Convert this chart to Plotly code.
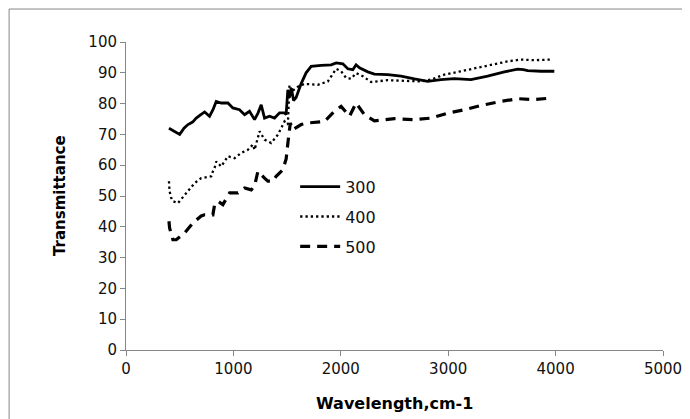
import plotly.graph_objects as go

# ---- data ----
x_300 = [400, 450, 500, 540, 577, 620, 654, 700, 732, 778, 810, 840, 887, 949, 995, 1057,
         1104, 1150, 1197, 1230, 1259, 1290, 1337, 1383, 1430, 1476, 1491, 1507, 1522, 1540,
         1560, 1584, 1631, 1677, 1724, 1817, 1910, 1957, 2019, 2065, 2112, 2142, 2174, 2251,
         2313, 2437, 2561, 2685, 2809, 2933, 3057, 3212, 3367, 3523, 3647, 3700, 3740, 3864, 3988]
y_300 = [72.0, 71.0, 70.0, 72.0, 73.2, 74.0, 75.3, 76.5, 77.3, 75.9, 78.0, 80.7, 80.2, 80.2, 78.6, 78.0,
         76.4, 77.5, 74.8, 77.0, 79.6, 75.3, 75.9, 75.3, 77.0, 77.0, 76.4, 84.5, 82.0, 85.0,
         81.0, 82.0, 86.5, 90.0, 92.1, 92.4, 92.6, 93.2, 92.9, 91.3, 91.0, 92.6, 91.6, 90.3,
         89.6, 89.4, 88.9, 88.0, 87.2, 87.8, 88.1, 87.8, 88.9, 90.3, 91.2, 91.0, 90.7, 90.5, 90.5]

x_400 = [400, 406, 421, 437, 484, 515, 546, 577, 639, 700, 794, 809, 825, 840, 870, 887,
         949, 1011, 1073, 1135, 1181, 1197, 1244, 1290, 1352, 1414, 1476, 1507, 1522, 1545,
         1600, 1662, 1786, 1879, 1957, 2003, 2050, 2096, 2142, 2205, 2282, 2437, 2592, 2747,
         2840, 2964, 3119, 3274, 3430, 3553, 3677, 3802, 3957]
y_400 = [54.8, 51.5, 49.4, 48.3, 47.7, 49.0, 50.4, 51.5, 54.2, 55.8, 56.4, 58.0, 59.1, 61.2, 60.0, 59.6,
         62.9, 62.3, 64.0, 65.0, 66.7, 65.0, 71.0, 68.3, 67.2, 69.9, 74.2, 73.2, 86.0, 84.0,
         85.5, 86.4, 86.1, 87.2, 91.3, 90.5, 88.3, 88.1, 89.9, 88.9, 87.0, 87.6, 87.4, 87.2,
         87.8, 89.4, 90.5, 91.6, 92.9, 93.7, 94.3, 94.1, 94.3]

x_500 = [400, 406, 437, 468, 546, 623, 700, 732, 809, 825, 856, 902, 965, 1042, 1104, 1166,
         1197, 1228, 1290, 1321, 1367, 1398, 1460, 1491, 1510, 1530, 1553, 1631, 1693, 1848,
         1941, 2003, 2081, 2142, 2220, 2313, 2499, 2685, 2840, 2995, 3150, 3305, 3491, 3647,
         3802, 3957]
y_500 = [41.8, 39.6, 35.8, 35.8, 38.0, 41.2, 43.5, 43.9, 43.9, 47.2, 48.3, 47.2, 51.0, 51.0, 52.6, 52.0,
         53.2, 58.0, 55.8, 54.8, 54.8, 56.4, 58.5, 62.0, 68.0, 73.7, 71.5, 73.2, 73.7, 74.2,
         77.5, 79.1, 75.9, 80.2, 76.4, 74.4, 75.1, 74.8, 75.3, 76.9, 78.0, 79.4, 80.7, 81.6,
         81.3, 81.8]

series_names = ["300", "400", "500"]
x_ticks = [0, 1000, 2000, 3000, 4000, 5000]
y_ticks = [0, 10, 20, 30, 40, 50, 60, 70, 80, 90, 100]

FONT = "DejaVu Sans"
AXIS_GRAY = "#868686"

fig = go.Figure()
fig.add_trace(go.Scatter(x=x_300, y=y_300, mode="lines", name=series_names[0], legendgroup="a",
                         line=dict(color="black", width=2.8, dash="solid")))
fig.add_trace(go.Scatter(x=x_400, y=y_400, mode="lines", name=series_names[1], legendgroup="b",
                         line=dict(color="black", width=2.3, dash="2.3px,3px")))
fig.add_trace(go.Scatter(x=x_500, y=y_500, mode="lines", name=series_names[2], legendgroup="c",
                         line=dict(color="black", width=3.2, dash="10px,7px")))

fig.update_layout(
    width=690, height=419,
    margin=dict(l=118, r=34.5, t=34, b=77),
    paper_bgcolor="white", plot_bgcolor="white",
    font=dict(family=FONT, color="#111111"),
    showlegend=True,
    legend=dict(x=0.315, y=0.585, xanchor="left", yanchor="top",
                font=dict(family=FONT, size=16, color="#111111"),
                itemwidth=40,
                bgcolor="rgba(0,0,0,0)", tracegroupgap=6),
    xaxis=dict(range=[0, 5000], tickvals=x_ticks, ticktext=[str(v) for v in x_ticks],
               showgrid=False, zeroline=False, showline=True, linecolor=AXIS_GRAY, linewidth=1,
               ticks="outside", ticklen=5, tickcolor=AXIS_GRAY,
               tickfont=dict(family=FONT, size=15, color="#111111")),
    yaxis=dict(range=[0, 100], tickvals=y_ticks, ticktext=[str(v) for v in y_ticks],
               showgrid=False, zeroline=False, showline=True, linecolor=AXIS_GRAY, linewidth=1,
               ticks="outside", ticklen=5, tickcolor=AXIS_GRAY,
               tickfont=dict(family=FONT, size=15, color="#111111")),
    annotations=[
        dict(text="<b>Wavelength,cm-1</b>", xref="paper", yref="paper", x=0.5, y=-0.175,
             xanchor="center", yanchor="middle", showarrow=False,
             font=dict(family=FONT, size=16, color="black")),
        dict(text="<b>Transmittance</b>", xref="paper", yref="paper", x=-0.1228, y=0.5,
             xanchor="center", yanchor="middle", showarrow=False, textangle=-90,
             font=dict(family=FONT, size=15, color="black")),
    ],
    shapes=[
        dict(type="rect", xref="paper", yref="paper", x0=-0.2177, x1=1.0605, y0=-0.2435, y1=1.107,
             line=dict(color=AXIS_GRAY, width=1), fillcolor="rgba(0,0,0,0)", layer="below"),
    ],
)

fig.write_html("out.html")
